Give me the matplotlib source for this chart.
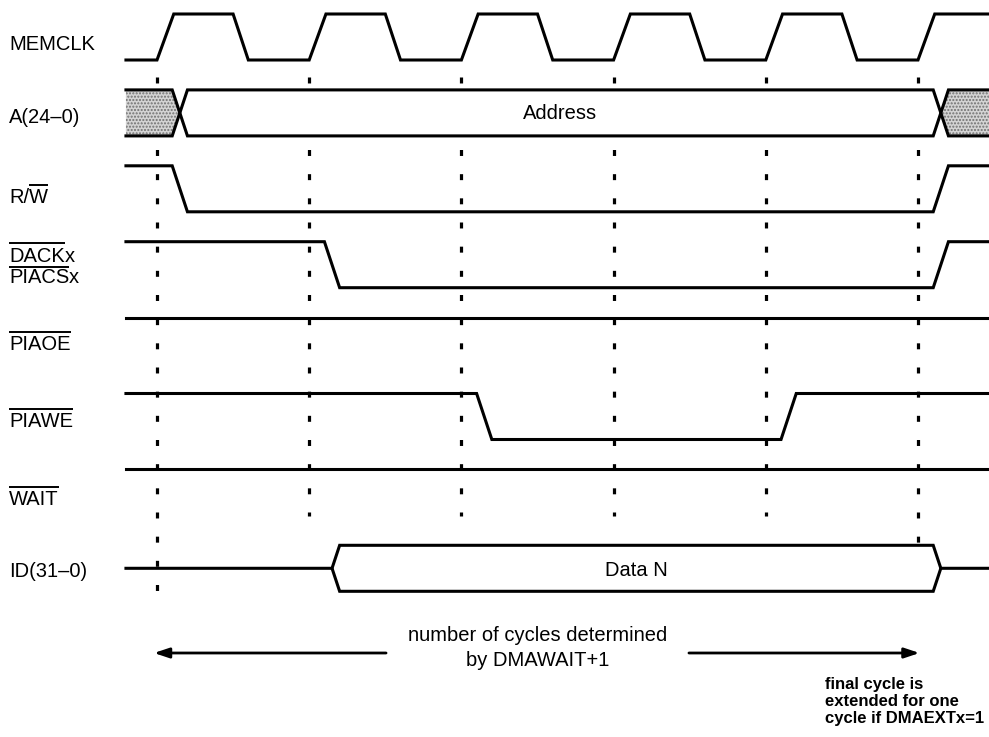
import matplotlib
matplotlib.use("Agg")
import matplotlib.pyplot as plt
from matplotlib.patches import Polygon

plt.rcParams['font.family'] = ['Liberation Sans', 'DejaVu Sans']
plt.rcParams['lines.scale_dashes'] = False
plt.rcParams['hatch.linewidth'] = 1.0
plt.rcParams['hatch.color'] = '#6a6a6a'

# ---------------- data (time in clock cycles) ----------------
t_start = -0.204
t_end = 5.6
clock_rises = [0, 1, 2, 3, 4, 5]
clock_rise_dur = 0.11
clock_fall_start = 0.50
clock_fall_end = 0.60
edge_times = [0, 1, 2, 3, 4, 5]
trans_dur = 0.1

# level signals: initial level (1 = high) and (transition start, new level)
rw_init, rw_trans = 1, [(0.1, 0), (5.1, 1)]
dack_init, dack_trans = 1, [(1.1, 0), (5.1, 1)]
piaoe_init, piaoe_trans = 1, []
piawe_init, piawe_trans = 1, [(2.1, 0), (4.1, 1)]
wait_init, wait_trans = 1, []

addr_valid = (0.1, 5.1)
addr_text = 'Address'
data_valid = (1.1, 5.1)
data_text = 'Data N'

span = (0, 5)
span_text = ['number of cycles determined', 'by DMAWAIT+1']
note_lines = ['final cycle is', 'extended for one', 'cycle if DMAEXTx=1']

label_segments = [
    [('MEMCLK', False)],
    [('A(24–0)', False)],
    [('R/', False), ('W', True)],
    [('DACK', True), ('x', False)],
    [('PIACS', True), ('x', False)],
    [('PIAOE', True)],
    [('PIAWE', True)],
    [('WAIT', True)],
    [('ID(31–0)', False)],
]

# ---------------- layout ----------------
W, H = 989, 737
X0, PERIOD = 157, 152.2
ROW_TOP, ROW_STEP, SWING = 14, 75.9, 46
LW = 2.2
FS = 14.5
label_x_px = 9
label_baselines = [50, 123, 203, 262, 283, 350, 427, 505, 577]
overline_off = [0, 0, 18, 19, 16, 18, 18, 18, 0]
dash_top = 77
dash_bottom = [591, 516, 516, 516, 516, 545]

fig = plt.figure(figsize=(W / 100, H / 100), dpi=100)
ax = fig.add_axes([0, 0, 1, 1])
ax.set_xlim(-X0 / PERIOD, (W - X0) / PERIOD)
ax.set_ylim(H, 0)
ax.axis('off')


def row_hi(i):
    return ROW_TOP + ROW_STEP * i


def row_lo(i):
    return row_hi(i) + SWING


def lvl(i, v):
    return row_hi(i) if v else row_lo(i)


# dashed reference lines
for t, yb in zip(edge_times, dash_bottom):
    ax.plot([t, t], [dash_top, yb], color='black', lw=2.3,
            linestyle=(0, (4.3, 13.1)), solid_capstyle='butt',
            dash_capstyle='butt', zorder=1)

# clock
ts, ys = [t_start], [row_lo(0)]
for r in clock_rises:
    ts += [r, r + clock_rise_dur, r + clock_fall_start, r + clock_fall_end]
    ys += [row_lo(0), row_hi(0), row_hi(0), row_lo(0)]
ax.plot(ts, ys, color='black', lw=LW, solid_joinstyle='miter', zorder=3)


def level_wave(row, init, trans):
    ts, ys = [t_start], [lvl(row, init)]
    cur = init
    for t, new in trans:
        ts += [t, t + trans_dur]
        ys += [lvl(row, cur), lvl(row, new)]
        cur = new
    ts.append(t_end)
    ys.append(lvl(row, cur))
    ax.plot(ts, ys, color='black', lw=LW, solid_joinstyle='miter', zorder=3)


level_wave(2, rw_init, rw_trans)
level_wave(3, dack_init, dack_trans)
level_wave(4, piaoe_init, piaoe_trans)
level_wave(5, piawe_init, piawe_trans)
level_wave(6, wait_init, wait_trans)

# address bus
a0, a1 = addr_valid
top, bot = row_hi(1), row_lo(1)
mid = (top + bot) / 2
h = trans_dur / 2
for pts in ([(t_start, top), (a0, top), (a0 + h, mid), (a0, bot), (t_start, bot)],
            [(a1 + h, mid), (a1 + trans_dur, top), (t_end, top), (t_end, bot), (a1 + trans_dur, bot)]):
    ax.add_patch(Polygon(pts, closed=True, facecolor='#d4d4d4', edgecolor='#707070',
                         linewidth=0, hatch='.....', zorder=2))
ax.add_patch(Polygon([(a0 + h, mid), (a0 + trans_dur, top), (a1, top), (a1 + h, mid),
                      (a1, bot), (a0 + trans_dur, bot)], closed=True,
                     facecolor='white', edgecolor='none', zorder=2))
ax.plot([t_start, a0, a0 + trans_dur, a1, a1 + trans_dur, t_end],
        [top, top, bot, bot, top, top], color='black', lw=LW, solid_joinstyle='miter', zorder=3)
ax.plot([t_start, a0, a0 + trans_dur, a1, a1 + trans_dur, t_end],
        [bot, bot, top, top, bot, bot], color='black', lw=LW, solid_joinstyle='miter', zorder=3)
ax.text((a0 + a1) / 2 + trans_dur / 2, mid + 1, addr_text, ha='center', va='center',
        fontsize=FS, zorder=4)

# data bus
d0, d1 = data_valid
top, bot = row_hi(7), row_lo(7)
mid = (top + bot) / 2
ax.add_patch(Polygon([(d0 + h, mid), (d0 + trans_dur, top), (d1, top), (d1 + h, mid),
                      (d1, bot), (d0 + trans_dur, bot)], closed=True,
                     facecolor='white', edgecolor='none', zorder=2))
ax.plot([t_start, d0 + h, d0 + trans_dur, d1, d1 + h, t_end],
        [mid, mid, top, top, mid, mid], color='black', lw=LW, solid_joinstyle='miter', zorder=3)
ax.plot([d0 + h, d0 + trans_dur, d1, d1 + h],
        [mid, bot, bot, mid], color='black', lw=LW, solid_joinstyle='miter', zorder=3)
ax.text((d0 + d1) / 2 + trans_dur / 2, mid + 2, data_text, ha='center', va='center',
        fontsize=FS, zorder=4)

# signal labels with overlines
fig.canvas.draw()
renderer = fig.canvas.get_renderer()
inv = ax.transData.inverted()
label_x = ax.get_xlim()[0] + label_x_px / PERIOD
for segs, base, off in zip(label_segments, label_baselines, overline_off):
    cur = label_x
    for s, ov in segs:
        txt = ax.text(cur, base, s, ha='left', va='baseline', fontsize=FS)
        bb = txt.get_window_extent(renderer)
        xa = inv.transform((bb.x0, bb.y0))[0]
        xb = inv.transform((bb.x1, bb.y0))[0]
        if ov:
            ax.plot([xa, xb], [base - off, base - off], color='black', lw=1.4,
                    solid_capstyle='butt')
        cur = xb

# span arrows and text
s0, s1 = span
cx = (s0 + s1) / 2
arrow_y = 653
gap = 0.995
ap = dict(arrowstyle='-|>,head_length=0.9,head_width=0.3', lw=2.0, color='black',
          shrinkA=0, shrinkB=0, mutation_scale=10)
ax.annotate('', xy=(s0 - 0.02, arrow_y), xytext=(cx - gap, arrow_y), arrowprops=ap)
ax.annotate('', xy=(s1 + 0.01, arrow_y), xytext=(cx + gap, arrow_y), arrowprops=ap)
ax.text(cx, 641, span_text[0], ha='center', va='baseline', fontsize=FS)
ax.text(cx, 666, span_text[1], ha='center', va='baseline', fontsize=FS)

# note
note_x = s1 - 0.61
for line, yb in zip(note_lines, [689, 706, 723]):
    ax.text(note_x, yb, line, ha='left', va='baseline', fontsize=12, fontweight='bold')

fig.savefig('out.png', dpi=100, facecolor='white')
